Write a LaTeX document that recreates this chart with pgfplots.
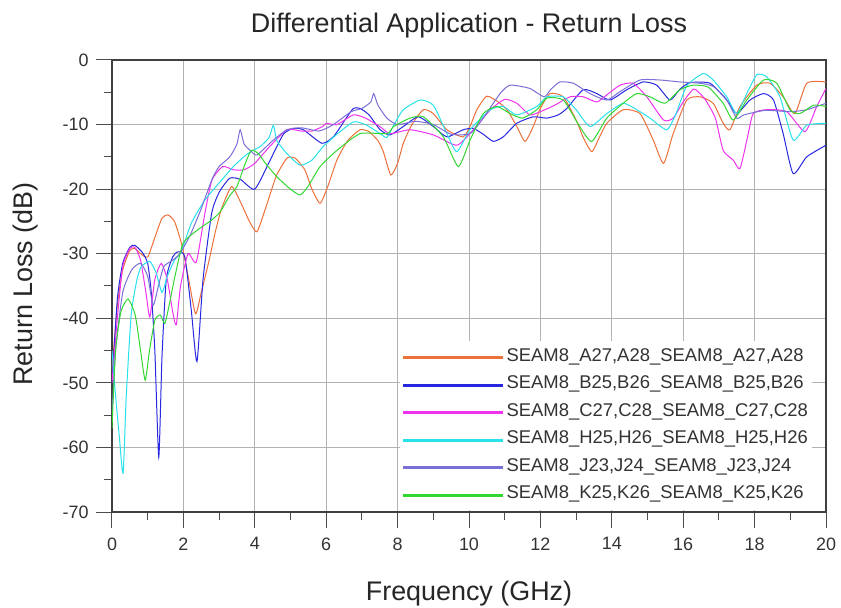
\documentclass[border=0pt]{standalone}
\usepackage{fontspec}
\setmainfont{Liberation Sans}
\usepackage{pgfplots}
\pgfplotsset{compat=1.18}
\definecolor{cA}{RGB}{236,112,58}
\definecolor{cB}{RGB}{40,40,225}
\definecolor{cC}{RGB}{238,50,238}
\definecolor{cH}{RGB}{40,225,235}
\definecolor{cJ}{RGB}{122,110,215}
\definecolor{cK}{RGB}{50,215,50}
\begin{document}
\begin{tikzpicture}
\useasboundingbox (-112bp,-96bp) rectangle (729bp,512bp);
\begin{axis}[
 scale only axis, width=714bp, height=452bp,
 xmin=0, xmax=20, ymin=-70, ymax=0,
 xtick={0,2,...,20}, ytick={-70,-60,...,0},
 minor x tick num=1, minor y tick num=1,
 tick align=outside, tick pos=left,
 major tick length=16bp, minor tick length=8bp,
 grid=major, major grid style={draw=black!30, line width=0.9bp},
 axis line style={draw=black!75, line width=1.3bp},
 tick style={draw=black!70, line width=1bp},
 tick label style={font=\fontsize{18}{18}\selectfont, text=black!80},
 xticklabel style={yshift=-6bp},
 yticklabel style={xshift=-4bp},
 /pgf/number format/assume math mode=true,
 title={Differential Application - Return Loss},
 title style={at={([yshift=21.5bp]axis description cs:0.5,1)}, anchor=base, font=\fontsize{27}{27}\selectfont, text=black!85},
 xlabel={Frequency (GHz)},
 xlabel style={at={([yshift=-88bp]axis description cs:0.5,0)}, anchor=base, font=\fontsize{27}{27}\selectfont, text=black!85},
 ylabel={Return Loss (dB)},
 ylabel style={at={([xshift=-79bp,yshift=2bp]axis description cs:0,0.5)}, anchor=base, font=\fontsize{27}{27}\selectfont, text=black!85},
 legend style={at={([xshift=-14bp,yshift=2bp]axis description cs:1,0)}, anchor=south east, draw=none, fill=white, font=\fontsize{18.5}{18.5}\selectfont, text=black!80, inner sep=2bp, row sep=0bp, column sep=0bp, nodes={text height=13.5bp, text depth=4bp, inner ysep=5bp}},
 legend cell align=left,
 legend image code/.code={\draw[#1, line width=3bp] (0bp,-1bp) -- (100bp,-1bp);},
 legend style={/tikz/every even column/.append style={column sep=9bp}},
 every axis plot/.append style={line width=1bp, smooth, tension=0.35},
]
% SEAM8_A27,A28
\addplot[cA] coordinates {(0,-48)(0.15,-38)(0.3,-32.5)(0.5,-29.5)(0.65,-29.2)(0.8,-30)(1.0,-30.5)(1.2,-27.5)(1.4,-24.5)(1.57,-24)(1.75,-25)(1.95,-28.5)(2.15,-34)(2.34,-39.3)(2.5,-36)(2.7,-31.5)(2.9,-26.5)(3.07,-23)(3.35,-19.6)(3.6,-22)(3.85,-25)(4.06,-26.6)(4.3,-23)(4.6,-18)(4.9,-15.2)(5.13,-15.2)(5.4,-17)(5.6,-20)(5.83,-22.2)(6.05,-19.5)(6.3,-15.5)(6.6,-12.5)(6.95,-10.8)(7.2,-11.1)(7.45,-12.5)(7.6,-14.2)(7.81,-17.8)(8.0,-16)(8.16,-12.9)(8.4,-10)(8.72,-7.7)(9.0,-8.3)(9.38,-10.8)(9.84,-11.9)(10.05,-10)(10.22,-7.7)(10.5,-5.6)(10.87,-6.7)(11.1,-8)(11.34,-10.3)(11.57,-12.6)(11.8,-10.3)(12.0,-7.5)(12.27,-5.2)(12.64,-5.7)(13.0,-9.3)(13.2,-12)(13.44,-14.2)(13.65,-12)(13.86,-9.8)(14.32,-7.7)(14.79,-8.3)(15.16,-12.4)(15.45,-16)(15.72,-11.4)(16.1,-6.2)(16.47,-5.7)(16.84,-6.7)(17.12,-9.8)(17.31,-10.8)(17.59,-7.2)(18.06,-3.9)(18.43,-3.6)(18.8,-5.7)(19.13,-8.3)(19.46,-3.6)(20,-3.4)};
\addlegendentry{SEAM8\_A27,A28\_SEAM8\_A27,A28}
% SEAM8_B25,B26
\addplot[cB] coordinates {(0,-50)(0.15,-37)(0.3,-31.5)(0.5,-29)(0.64,-28.7)(0.85,-29.8)(1.0,-31.5)(1.1,-36)(1.2,-45)(1.31,-61.5)(1.4,-46)(1.52,-34)(1.7,-30.5)(1.85,-29.7)(2.04,-30.5)(2.22,-38.7)(2.38,-46.7)(2.55,-34)(2.79,-23.8)(3.0,-20.5)(3.3,-18.3)(3.6,-18.5)(4.0,-20)(4.43,-15.5)(4.8,-11.5)(5.08,-10.6)(5.36,-10.8)(5.88,-12.9)(6.2,-11.9)(6.5,-9.5)(6.76,-7.5)(6.95,-7.5)(7.2,-8.5)(7.51,-10.8)(7.79,-11.6)(8.16,-10.3)(8.58,-8.8)(9.0,-10.3)(9.38,-11.9)(9.84,-10.8)(10.12,-10.6)(10.4,-11.5)(10.68,-12.6)(10.96,-11.9)(11.34,-9.8)(11.8,-8.8)(12.18,-9)(12.5,-8.5)(12.74,-7.5)(13.2,-4.6)(13.58,-5.2)(13.95,-6.2)(14.42,-4.6)(14.88,-3.4)(15.26,-3.9)(15.63,-6.2)(15.91,-4.5)(16.2,-3.5)(16.75,-3.6)(17.22,-6.2)(17.5,-8.3)(17.87,-6.2)(18.25,-5.2)(18.53,-6.2)(18.8,-11.4)(19.08,-17.6)(19.46,-15)(20,-13.2)};
\addlegendentry{SEAM8\_B25,B26\_SEAM8\_B25,B26}
% SEAM8_C27,C28
\addplot[cC] coordinates {(0,-50)(0.15,-40)(0.3,-32)(0.5,-29.2)(0.64,-29)(0.8,-31)(0.95,-36)(1.06,-39.8)(1.2,-34)(1.38,-31.5)(1.55,-34)(1.7,-39)(1.8,-41)(1.92,-35)(2.13,-30)(2.36,-31.3)(2.6,-23.8)(2.8,-18.6)(3.1,-16.5)(3.4,-17)(3.7,-17)(4.0,-16)(4.4,-13.5)(4.9,-10.8)(5.3,-11)(5.6,-11)(5.9,-10.3)(6.0,-9.8)(6.3,-10)(6.76,-8.5)(7.1,-9)(7.5,-10.3)(7.79,-11.4)(8.35,-10.8)(9.0,-11.6)(9.66,-13.2)(10.12,-10.8)(10.6,-7.7)(11.0,-6.1)(11.34,-6.7)(11.7,-8.5)(12.0,-8)(12.4,-7)(12.83,-5.7)(13.2,-5.7)(13.58,-6.5)(13.86,-5.4)(14.23,-3.9)(14.6,-3.6)(14.98,-5.7)(15.45,-9.3)(15.72,-9)(16.0,-6.5)(16.3,-4.5)(16.6,-6)(16.9,-9)(17.12,-14)(17.4,-15.5)(17.59,-16.8)(17.8,-12)(17.96,-8.3)(18.34,-7.7)(18.9,-8)(19.41,-11.1)(19.74,-7.2)(20,-4.4)};
\addlegendentry{SEAM8\_C27,C28\_SEAM8\_C27,C28}
% SEAM8_H25,H26
\addplot[cH] coordinates {(0,-45)(0.1,-52)(0.2,-58)(0.31,-64)(0.4,-52)(0.54,-39.3)(0.7,-34)(0.82,-32)(1.06,-31.2)(1.24,-33)(1.4,-36)(1.55,-33.5)(1.75,-31)(1.94,-29.7)(2.22,-25.3)(2.6,-21.7)(3.07,-18.6)(3.4,-16.5)(3.8,-14.5)(4.15,-13.4)(4.4,-12)(4.52,-10.1)(4.62,-12.5)(4.9,-14.5)(5.27,-16.3)(5.6,-15.5)(5.9,-13.5)(6.3,-11.5)(6.76,-9.6)(7.1,-10)(7.51,-11.4)(7.7,-12)(7.9,-10)(8.16,-7.7)(8.63,-6.2)(9.0,-7)(9.38,-11.4)(9.66,-14.2)(10.03,-10.8)(10.6,-7.7)(10.96,-7.2)(11.34,-8.5)(11.9,-7.2)(12.18,-5.7)(12.64,-5.7)(13.0,-7.7)(13.39,-10.3)(13.86,-8.3)(14.32,-6.7)(14.7,-7.7)(15.07,-9)(15.54,-10.8)(15.8,-8.3)(16.1,-4)(16.56,-2.1)(16.84,-3.1)(17.22,-5.7)(17.5,-8.3)(17.78,-5.2)(18.06,-2.3)(18.34,-2.6)(18.71,-5.7)(19.08,-12.4)(19.46,-10.1)(20,-9.8)};
\addlegendentry{SEAM8\_H25,H26\_SEAM8\_H25,H26}
% SEAM8_J23,J24
\addplot[cJ] coordinates {(0,-55)(0.1,-45)(0.3,-36)(0.55,-32.5)(0.8,-31.5)(1.0,-33.5)(1.15,-38)(1.3,-35)(1.45,-32)(1.7,-31)(1.9,-30)(2.2,-27)(2.5,-23)(2.8,-18.5)(3.0,-16.5)(3.3,-15)(3.5,-13)(3.59,-10.8)(3.7,-13)(3.87,-14)(4.06,-14.7)(4.5,-12.5)(4.9,-10.8)(5.3,-10.5)(5.8,-11)(6.2,-10)(6.7,-8)(7.0,-7.5)(7.25,-6.5)(7.33,-5.2)(7.45,-7)(7.7,-9)(8.0,-10)(8.5,-9.5)(9.0,-10)(9.5,-11.5)(10.03,-11.4)(10.4,-9)(10.87,-5.2)(11.15,-3.9)(11.7,-4.4)(12.1,-5.7)(12.3,-4.5)(12.55,-3.4)(12.92,-3.6)(13.39,-5.2)(13.86,-6.2)(14.23,-4.9)(14.79,-3.1)(15.35,-3.1)(15.91,-3.4)(16.47,-3.6)(16.84,-4.1)(17.2,-6)(17.5,-9)(17.7,-8.5)(18.3,-7.8)(19.0,-8)(19.46,-7.7)(20,-6.7)};
\addlegendentry{SEAM8\_J23,J24\_SEAM8\_J23,J24}
% SEAM8_K25,K26
\addplot[cK] coordinates {(0,-57)(0.1,-45)(0.25,-39)(0.45,-37)(0.65,-39.5)(0.8,-45)(0.93,-49.6)(1.05,-45)(1.2,-40.3)(1.35,-39.5)(1.48,-40.8)(1.6,-38)(1.76,-33.6)(1.99,-28.4)(2.4,-26.3)(2.79,-24.8)(3.03,-23.5)(3.3,-21)(3.5,-19.6)(3.7,-16.5)(3.9,-14)(4.1,-14.5)(4.3,-16)(4.62,-18.1)(5.0,-20)(5.27,-20.9)(5.5,-19.5)(5.83,-16.5)(6.3,-14)(6.95,-11.4)(7.7,-11.4)(7.89,-10.3)(8.35,-9)(8.72,-8.8)(9.28,-11.9)(9.7,-16.5)(10.03,-12.4)(10.4,-8.3)(10.78,-7.2)(11.15,-8.3)(11.5,-9)(11.9,-7.7)(12.18,-5.9)(12.64,-6.2)(13.1,-10.3)(13.44,-12.6)(13.86,-9)(14.32,-6.7)(14.7,-5.2)(15.07,-5.7)(15.49,-6.7)(15.91,-4.6)(16.28,-3.9)(16.7,-4.2)(17.12,-6.7)(17.4,-9.3)(17.78,-6.2)(18.25,-3.1)(18.62,-3.6)(18.99,-7.7)(19.27,-8.3)(19.65,-7)(20,-7.2)};
\addlegendentry{SEAM8\_K25,K26\_SEAM8\_K25,K26}
\end{axis}
\end{tikzpicture}
\end{document}
